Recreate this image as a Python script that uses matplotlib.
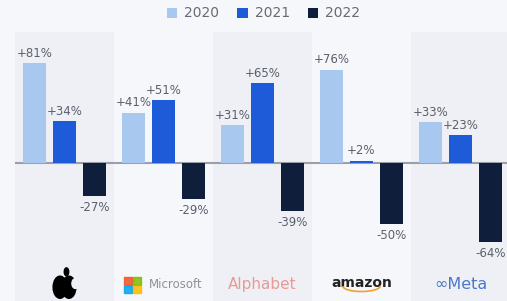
import numpy as np
import matplotlib.pyplot as plt
from matplotlib.patches import Rectangle, Ellipse, Arc

companies = ["Apple", "Microsoft", "Alphabet", "Amazon", "Meta"]
years = ["2020", "2021", "2022"]
growth_2020 = [81, 41, 31, 76, 33]
growth_2021 = [34, 51, 65, 2, 23]
growth_2022 = [-27, -29, -39, -50, -64]

colors = ["#a9c8ef", "#1e5bd8", "#0f1e3a"]
bg = "#f6f7fb"
band = "#eef0f5"

W, H = 507, 301
fig = plt.figure(figsize=(W / 100, H / 100), dpi=100)
fig.patch.set_facecolor(bg)

ax = fig.add_axes([15 / W, 0, 1 - 15 / W, (H - 32) / H])
ax.set_facecolor(bg)
ax.set_xlim(-0.5, 4.47)
ax.set_ylim(-112.2, 106.5)
for s in ax.spines.values():
    s.set_visible(False)
ax.set_xticks([])
ax.set_yticks([])

# alternating background bands
for i in range(len(companies)):
    if i % 2 == 0:
        ax.axvspan(i - 0.5, i + 0.5, color=band, zorder=0, lw=0)

x = np.arange(len(companies))
width = 0.235
offset = 0.3
series = [growth_2020, growth_2021, growth_2022]
for k, (vals, c, yr) in enumerate(zip(series, colors, years)):
    xs = x + (k - 1) * offset
    ax.bar(xs, vals, width, color=c, label=yr, zorder=2)
    for xi, v in zip(xs, vals):
        if v >= 0:
            ax.text(xi, v + 2.5, f"+{v}%", ha="center", va="bottom",
                    fontsize=8.5, color="#5a606b", zorder=3)
        else:
            ax.text(xi, v - 4, f"{v}%", ha="center", va="top",
                    fontsize=8.5, color="#5a606b", zorder=3)

ax.axhline(0, color="#9aa0aa", lw=1.5, zorder=1)

# company logos, drawn roughly with text and shapes
ly = -99
# apple
ax.add_patch(Ellipse((-0.045, ly - 2), 0.14, 18, color="black", zorder=3))
ax.add_patch(Ellipse((0.045, ly - 2), 0.14, 18, color="black", zorder=3))
ax.add_patch(Ellipse((0.11, ly + 1), 0.07, 8, color=band, zorder=4))
ax.add_patch(Ellipse((0.02, ly + 10.5), 0.045, 6.5, color="black", zorder=3))
# microsoft
ms_cols = ["#f25022", "#7fba00", "#00a4ef", "#ffb900"]
sq_w, sq_h = 0.08, 6.2
x0, y0 = 0.6, ly
for j, mc in enumerate(ms_cols):
    dx = (j % 2) * (sq_w + 0.01)
    dy = -(j // 2) * (sq_h + 0.8)
    ax.add_patch(Rectangle((x0 + dx, y0 + dy), sq_w, sq_h, color=mc,
                           alpha=0.85, zorder=3))
ax.text(0.85, ly, "Microsoft", ha="left", va="center", fontsize=8.5,
        color="#8d919a")
ax.text(2, ly, "Alphabet", ha="center", va="center", fontsize=11,
        color="#e89a94")
ax.text(3, ly + 1.5, "amazon", ha="center", va="center", fontsize=10,
        color="#222222", fontweight="bold")
ax.add_patch(Arc((3.0, ly - 1), 0.38, 9, theta1=200, theta2=340,
                 color="#f0a030", lw=1.2, zorder=3))
ax.text(4, ly, "\u221eMeta", ha="center", va="center", fontsize=11.5,
        color="#4a78c8")

leg = fig.legend(loc="upper center", bbox_to_anchor=(0.52, 1.02), ncol=3,
                 frameon=False, fontsize=10, handlelength=0.75,
                 handleheight=0.75, columnspacing=1.3, handletextpad=0.5)
for t in leg.get_texts():
    t.set_color("#666b75")

fig.savefig("out.png", dpi=100, facecolor=fig.get_facecolor())
